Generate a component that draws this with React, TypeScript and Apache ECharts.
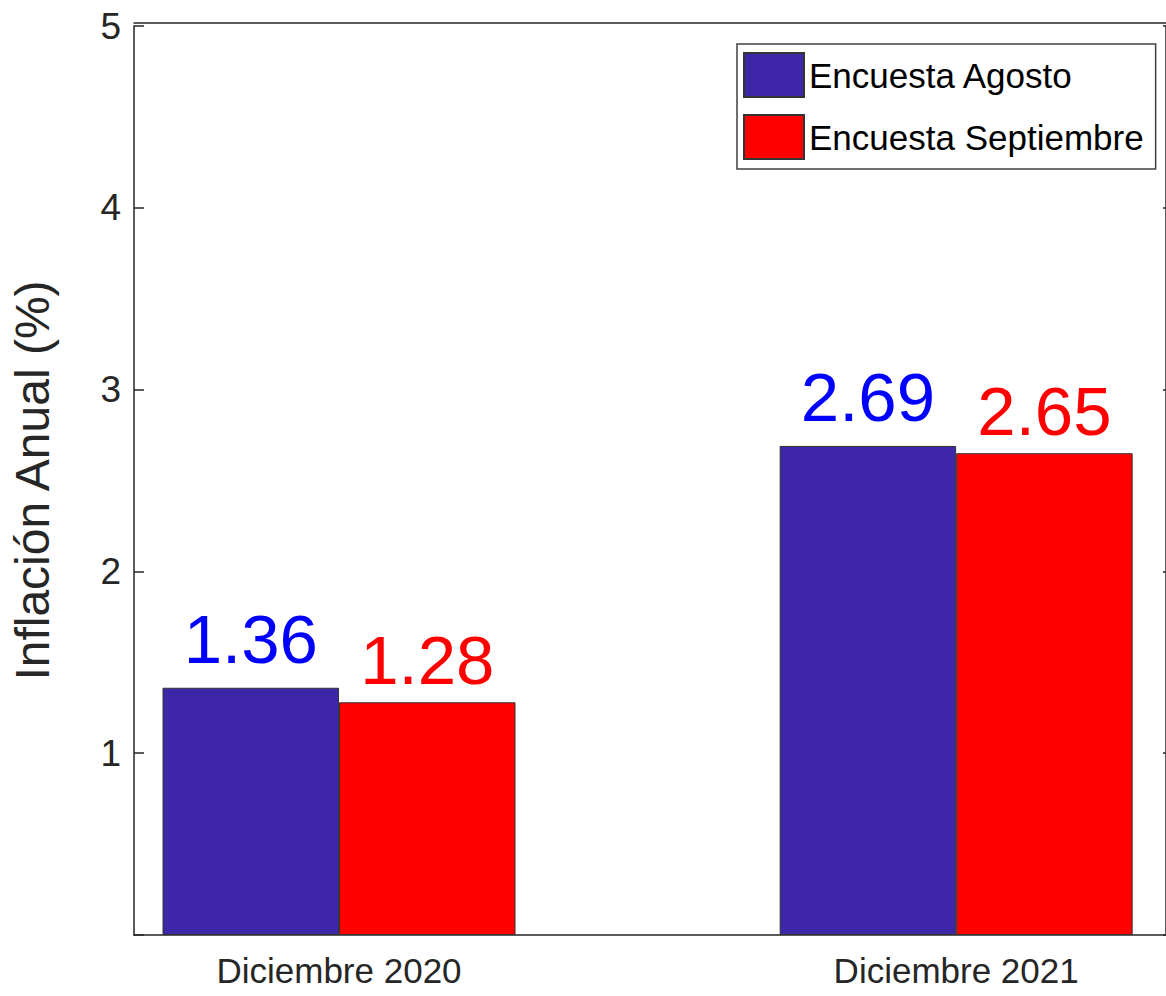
import React, { useEffect, useRef } from "react";
import * as echarts from "echarts";

const categories = ["Diciembre 2020", "Diciembre 2021"];
const categoryPositions = [1, 2];
const seriesNames = ["Encuesta Agosto", "Encuesta Septiembre"];
const agostoValues = [1.36, 2.69];
const septiembreValues = [1.28, 2.65];
const yTicks = [0, 1, 2, 3, 4, 5];

const SANS = '"Liberation Sans", Arial, Helvetica, sans-serif';
const AXIS_COLOR = "#262626";

export default function App() {
  const ref = useRef<HTMLDivElement>(null);
  useEffect(() => {
    if (!ref.current) return;
    const chart = echarts.init(ref.current, undefined, { renderer: "svg" });
    const mkData = (vals: number[]) => vals.map((v, i) => [categoryPositions[i], v]);
    const option: any = {
      animation: false,
      backgroundColor: "#ffffff",
      grid: { left: 131.5, right: 0, top: 26, bottom: 61, containLabel: false },
      legend: {
        orient: "vertical",
        left: 737,
        top: 44,
        padding: [8, 12, 9, 6],
        itemGap: 16,
        itemWidth: 60,
        itemHeight: 44,
        borderColor: "#404040",
        borderWidth: 1.5,
        backgroundColor: "#ffffff",
        icon: "rect",
        textStyle: { fontFamily: SANS, fontSize: 35, color: "#000000" },
        data: seriesNames,
      },
      xAxis: [
        {
          type: "value",
          min: 0.6678,
          max: 2.34,
          axisLine: { show: true, onZero: false, lineStyle: { color: AXIS_COLOR, width: 1.5 } },
          axisTick: { show: false },
          splitLine: { show: false },
          axisLabel: {
            customValues: categoryPositions,
            formatter: (v: number) => {
              const i = categoryPositions.indexOf(v);
              return i >= 0 ? categories[i] : "";
            },
            fontFamily: SANS,
            fontSize: 35,
            color: AXIS_COLOR,
            margin: 18,
          },
        },
        {
          type: "value",
          position: "top",
          min: 0.6678,
          max: 2.34,
          offset: 3,
          axisLine: { show: true, onZero: false, lineStyle: { color: AXIS_COLOR, width: 1.5 } },
          axisTick: { show: false },
          axisLabel: { show: false },
          splitLine: { show: false },
        },
      ],
      yAxis: [
        {
          type: "value",
          min: 0,
          max: 5,
          interval: 1,
          name: "Inflación Anual (%)",
          nameLocation: "middle",
          nameGap: 78,
          nameTextStyle: { fontFamily: SANS, fontSize: 48, color: AXIS_COLOR },
          axisLine: { show: true, lineStyle: { color: AXIS_COLOR, width: 1.5 } },
          axisTick: { show: true, inside: true, length: 10, lineStyle: { color: AXIS_COLOR, width: 1.5 } },
          splitLine: { show: false },
          axisLabel: {
            formatter: (v: number) => (v === 0 ? "" : String(v)),
            fontFamily: SANS,
            fontSize: 37,
            color: AXIS_COLOR,
            margin: 13,
          },
          data: yTicks,
        },
        {
          type: "value",
          position: "right",
          min: 0,
          max: 5,
          interval: 1,
          axisLine: { show: true, lineStyle: { color: AXIS_COLOR, width: 1.5 } },
          axisTick: { show: true, inside: true, length: 3, lineStyle: { color: AXIS_COLOR, width: 1.5 } },
          axisLabel: { show: false },
          splitLine: { show: false },
        },
      ],
      series: [
        {
          name: seriesNames[0],
          type: "bar",
          data: mkData(agostoValues),
          barWidth: 176.5,
          barGap: "0%",
          itemStyle: { color: "#3E26A8", borderColor: "#333333", borderWidth: 1 },
          label: {
            show: true,
            position: "top",
            distance: 14,
            formatter: (p: any) => p.value[1].toFixed(2),
            fontFamily: SANS,
            fontSize: 69,
            color: "#0000FF",
          },
        },
        {
          name: seriesNames[1],
          type: "bar",
          data: mkData(septiembreValues),
          barWidth: 176.5,
          barGap: "0%",
          itemStyle: { color: "#FF0000", borderColor: "#333333", borderWidth: 1 },
          label: {
            show: true,
            position: "top",
            distance: 7,
            formatter: (p: any) => p.value[1].toFixed(2),
            fontFamily: SANS,
            fontSize: 69,
            color: "#FF0000",
          },
        },
      ],
    };
    chart.setOption(option);
    return () => chart.dispose();
  }, []);
  return (
    <div
      ref={ref}
      style={{ position: "fixed", left: 0, top: 0, width: 1166, height: 996, background: "#fff" }}
    />
  );
}
